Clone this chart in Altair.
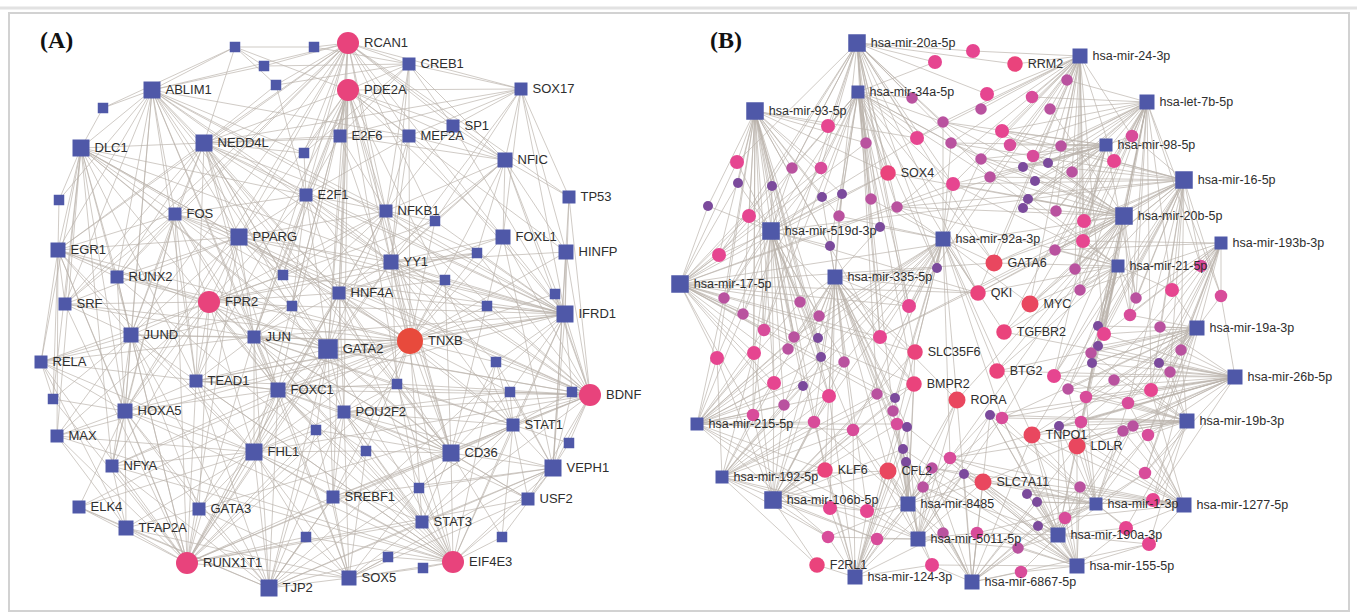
import altair as alt
import pandas as pd

W, H = 1357, 613

# ---------------- Panel A: TF - gene network ----------------
a_label = ["ABLIM1", "DLC1", "NEDD4L", "E2F1", "FOS", "PPARG", "EGR1", "RUNX2", "SRF", "FPR2",
           "RCAN1", "PDE2A", "CREB1", "SOX17", "E2F6", "MEF2A", "SP1", "NFIC", "TP53", "NFKB1",
           "FOXL1", "HINFP", "YY1", "HNF4A", "IFRD1", "JUN", "GATA2", "TNXB", "JUND", "RELA",
           "TEAD1", "FOXC1", "BDNF", "HOXA5", "POU2F2", "MAX", "STAT1", "FHL1", "CD36", "NFYA",
           "VEPH1", "SREBF1", "USF2", "ELK4", "GATA3", "STAT3", "TFAP2A", "RUNX1T1", "EIF4E3", "SOX5",
           "TJP2"]
a_x = [152, 81, 204, 306, 175, 239, 58, 117, 65, 209,
       348, 348, 409, 521, 340, 409, 453, 505, 569, 386,
       503, 566, 391, 339, 565, 254, 328, 410, 131, 41,
       196, 278, 590, 125, 344, 57, 513, 254, 451, 112,
       553, 333, 528, 79, 199, 422, 126, 187, 453, 349,
       269]
a_y = [90, 148, 143, 195, 214, 237, 250, 277, 304, 302,
       43, 90, 64, 89, 136, 136, 126, 160, 197, 211,
       237, 252, 262, 293, 314, 337, 349, 341, 335, 362,
       381, 390, 395, 411, 412, 436, 425, 452, 453, 466,
       468, 497, 499, 507, 509, 522, 528, 563, 562, 578,
       588]
a_cls = ["X", "X", "X", "M", "M", "X", "L", "M", "M", "C",
         "C", "C", "M", "M", "M", "M", "M", "L", "M", "M",
         "L", "L", "L", "M", "X", "M", "XX", "T", "L", "M",
         "M", "L", "C", "L", "M", "M", "M", "X", "X", "M",
         "X", "M", "M", "M", "M", "M", "L", "C", "C", "L",
         "X"]

# unlabeled small TF nodes s1..s27
a_sx = [235, 314, 264, 276, 103, 304, 59, 283, 292, 435, 477, 445, 555, 487,
        496, 397, 510, 572, 569, 53, 316, 366, 419, 306, 502, 388, 423]
a_sy = [47, 47, 66, 85, 108, 153, 200, 275, 306, 221, 253, 280, 294, 306,
        362, 384, 392, 392, 443, 399, 430, 451, 488, 537, 537, 557, 568]

a_links = {
    "RCAN1": "s2 s3 s4 CREB1 SOX17 E2F6 MEF2A SP1 NFIC E2F1 NEDD4L ABLIM1 s6 NFKB1 HNF4A YY1 GATA2 FOS PPARG s10 FOXL1 TP53 SRF EGR1 RUNX2 JUND HOXA5 JUN",
    "PDE2A": "CREB1 SOX17 E2F6 MEF2A SP1 NFIC E2F1 s6 NFKB1 YY1 HNF4A GATA2 JUN FOXC1 POU2F2 PPARG s8 s9 FOXL1 HINFP s1 NEDD4L TEAD1 FHL1 CD36 STAT1 STAT3 SREBF1",
    "ABLIM1": "s1 s3 s5 DLC1 NEDD4L FOS PPARG EGR1 RUNX2 SRF JUND E2F1 s6 JUN TEAD1 HOXA5 s7 GATA2 RCAN1 CD36 FOXC1 NFKB1 MEF2A IFRD1 YY1 HNF4A",
    "DLC1": "s5 s7 EGR1 RUNX2 SRF RELA JUND FOS E2F1 HOXA5 MAX NFYA TEAD1 PPARG NEDD4L GATA2 FOXC1 s20 TNXB YY1 HNF4A CD36",
    "NEDD4L": "s1 s4 s6 E2F1 FOS PPARG RUNX2 JUND JUN TEAD1 HNF4A MEF2A E2F6 NFKB1 YY1 s8 FOXC1 SRF EGR1 GATA2 CD36 POU2F2 IFRD1 SOX17",
    "FPR2": "FOS PPARG EGR1 RUNX2 SRF JUND JUN RELA TEAD1 HOXA5 FOXC1 GATA2 s8 s9 HNF4A E2F1 NFKB1 YY1 MAX NFYA GATA3 FHL1 POU2F2 s21 s10 s11",
    "TNXB": "E2F1 NFKB1 YY1 HNF4A GATA2 JUN FOXC1 POU2F2 s10 s11 s12 s13 s14 s15 s16 s17 FOXL1 HINFP IFRD1 STAT1 CD36 s22 FHL1 PPARG SREBF1 STAT3 TEAD1 E2F6 MEF2A NFIC RUNX2 JUND EGR1 SRF HOXA5 NFYA MAX ELK4",
    "BDNF": "IFRD1 HINFP FOXL1 TP53 NFIC s13 s14 s15 s17 s18 STAT1 s19 VEPH1 USF2 CD36 YY1 GATA2 HNF4A POU2F2 s16 FOXC1 SREBF1 NFKB1 E2F1 s11 STAT3 FOS PPARG JUN TEAD1 FHL1 GATA3",
    "RUNX1T1": "TFAP2A GATA3 ELK4 NFYA HOXA5 MAX TEAD1 FHL1 FOXC1 JUND RUNX2 SRF RELA JUN GATA2 s24 SREBF1 POU2F2 s21 s20 STAT3 SOX5 EGR1 FOS PPARG HNF4A YY1 NFKB1 s16 CD36 STAT1 USF2",
    "EIF4E3": "SOX5 s26 s27 STAT3 SREBF1 s23 s25 USF2 VEPH1 STAT1 CD36 POU2F2 s22 FOXC1 GATA2 FHL1 HNF4A YY1 s16 s15 IFRD1 JUN TEAD1 s24 HOXA5 JUND NFYA MAX RUNX2",
    "PPARG": "RUNX2 SRF EGR1 JUND JUN HNF4A E2F1 FOS s8 s9 TEAD1 HOXA5 YY1 NFKB1",
    "FHL1": "TEAD1 HOXA5 JUN JUND NFYA MAX GATA3 TFAP2A FOXC1 GATA2 POU2F2 s21 s22 SREBF1 STAT3 s24 HNF4A RELA ELK4",
    "CD36": "POU2F2 s22 s21 STAT1 STAT3 SREBF1 s23 s25 USF2 VEPH1 FOXC1 GATA2 HNF4A YY1 s16 s15 s17 JUN NFKB1 FOXL1 s12",
    "TJP2": "GATA3 TFAP2A FHL1 FOXC1 TEAD1 JUN GATA2 s24 SREBF1 SOX5 s26 STAT3 POU2F2 s21 HOXA5 NFYA ELK4 JUND s22 STAT1 IFRD1 VEPH1",
    "IFRD1": "HINFP FOXL1 TP53 NFIC SOX17 SP1 s10 s11 s12 s13 s14 YY1 NFKB1 HNF4A GATA2 s15 s17 s18 STAT1 VEPH1 E2F1 MEF2A FOS PPARG JUN FOXC1 TEAD1 s9 s8",
    "VEPH1": "STAT1 s17 s18 s19 USF2 CD36 s25 STAT3 s23 HINFP FOXL1 TP53 s15 POU2F2 SREBF1",
    "SOX5": "s24 s26 s27 STAT3 SREBF1 s23 FHL1 GATA3 TFAP2A POU2F2 s21 s22 FOXC1 JUN VEPH1 USF2",
    "SOX17": "CREB1 SP1 NFIC TP53 MEF2A HINFP FOXL1 E2F6 s10 YY1",
    "NFIC": "TP53 FOXL1 HINFP SP1 MEF2A NFKB1 s10 s11 YY1 CREB1 E2F6 HNF4A",
    "E2F1": "s4 s6 FOS PPARG NFKB1 YY1 HNF4A s8 s9 JUN GATA2 MEF2A E2F6",
    "TFAP2A": "ELK4 NFYA MAX HOXA5 RELA GATA3",
    "EGR1": "s7 SRF RELA s20 MAX RUNX2 JUND HOXA5 GATA2 FHL1",
    "GATA2": "JUN FOXC1 POU2F2 HNF4A TEAD1 s9 s21 SREBF1 YY1 NFKB1",
    "JUN": "FOS JUND SRF RELA TEAD1 FOXC1 HNF4A STAT3 STAT1 NFKB1 s9 s16 USF2",
    "FOS": "JUND SRF EGR1 RUNX2 FOXC1 TEAD1 s8 s9 HOXA5 NFYA",
    "HNF4A": "YY1 NFKB1 FOXC1 POU2F2 s12 s11 s16 STAT1 FOXL1",
    "YY1": "s10 s11 s12 s14 FOXL1 HINFP s15 s16 STAT1 MEF2A CREB1",
    "FOXC1": "TEAD1 POU2F2 s21 s22 HOXA5 NFYA GATA3 s16 STAT3",
    "POU2F2": "s16 s22 STAT1 STAT3 SREBF1 USF2 s23 s17",
    "HOXA5": "RELA MAX NFYA ELK4 GATA3 s20 TEAD1 JUND RUNX2",
    "JUND": "RELA SRF RUNX2 s20 MAX NFYA GATA3",
    "RELA": "FOXC1 s9 s20",
    "NFKB1": "s10 s11 MEF2A SP1 CREB1 E2F6 s8",
    "STAT1": "s15 s17 s18 s19 USF2 STAT3 s23 s25 s16",
    "CREB1": "s2 s3 s4 E2F6 MEF2A SP1 s6",
    "s1": "s2 s3 s4 s5",
}

# ---------------- Panel B: miRNA - mRNA network ----------------
b_mir = ["hsa-mir-20a-5p", "hsa-mir-34a-5p", "hsa-mir-93-5p", "hsa-mir-24-3p", "hsa-let-7b-5p",
         "hsa-mir-98-5p", "hsa-mir-16-5p", "hsa-mir-20b-5p", "hsa-mir-193b-3p", "hsa-mir-21-5p",
         "hsa-mir-519d-3p", "hsa-mir-92a-3p", "hsa-mir-335-5p", "hsa-mir-17-5p", "hsa-mir-19a-3p",
         "hsa-mir-26b-5p", "hsa-mir-19b-3p", "hsa-mir-215-5p", "hsa-mir-192-5p", "hsa-mir-106b-5p",
         "hsa-mir-8485", "hsa-mir-1-3p", "hsa-mir-1277-5p", "hsa-mir-190a-3p", "hsa-mir-5011-5p",
         "hsa-mir-155-5p", "hsa-mir-124-3p", "hsa-mir-6867-5p"]
b_mir_x = [857, 858, 755, 1080, 1147, 1106, 1184, 1124, 1221, 1118,
           771, 943, 835, 680, 1197, 1235, 1187, 697, 722, 773,
           908, 1096, 1184, 1058, 918, 1077, 855, 972]
b_mir_y = [43, 92, 111, 56, 102, 145, 180, 216, 243, 266,
           231, 239, 277, 284, 328, 377, 421, 424, 477, 500,
           504, 504, 505, 535, 539, 566, 577, 582]
b_mir_cls = ["b17", "b13", "b17", "b15", "b15", "b13", "b17", "b17", "b13", "b13",
             "b17", "b15", "b15", "b17", "b15", "b15", "b15", "b13", "b13", "b17",
             "b15", "b13", "b15", "b15", "b15", "b15", "b15", "b15"]

b_gene = ["RRM2", "SOX4", "GATA6", "QKI", "MYC", "TGFBR2", "SLC35F6", "BTG2",
          "BMPR2", "RORA", "TNPO1", "LDLR", "KLF6", "CFL2", "SLC7A11", "F2RL1"]
b_gene_x = [1015, 888, 994, 978, 1030, 1004, 915, 997, 914, 957, 1032, 1077, 825, 888, 983, 817]
b_gene_y = [64, 173, 263, 293, 304, 332, 352, 371, 384, 400, 435, 446, 470, 471, 482, 565]
b_gene_cls = ["g", "g", "r", "g", "r", "g", "g", "g", "g", "r", "r", "r", "g", "r", "r", "g"]

# unlabeled mRNA nodes 1..127
b_cx = [973, 935, 1067, 987, 912, 1032, 981, 1050, 828, 943,
        1002, 917, 866, 951, 1010, 1061, 1132, 737, 792, 821,
        981, 1033, 1114, 1023, 1048, 1072, 990, 953, 738, 772,
        1035, 822, 842, 871, 708, 897, 1028, 1023, 1056, 749,
        839, 1084, 880, 830, 1083, 1055, 719, 937, 1075, 1201,
        1080, 1172, 1221, 1136, 724, 800, 909, 743, 819, 1130,
        1098, 1104, 1160, 764, 794, 818, 880, 1098, 1091, 1092,
        1181, 1159, 1170, 717, 754, 788, 821, 844, 1054, 1114,
        774, 803, 829, 877, 895, 1068, 1086, 1151, 784, 893,
        1128, 990, 1002, 753, 814, 853, 897, 907, 1081, 1059,
        1123, 1133, 1148, 903, 950, 906, 932, 964, 1145, 923,
        1080, 1027, 1037, 1153, 830, 867, 1065, 1038, 1126, 828,
        877, 943, 977, 1149, 1018, 932, 1021]
b_cy = [51, 62, 80, 94, 98, 97, 109, 109, 126, 122,
        131, 138, 143, 143, 145, 146, 136, 162, 168, 168,
        159, 156, 161, 167, 163, 172, 177, 184, 183, 186,
        181, 197, 194, 199, 206, 207, 199, 208, 211, 216,
        216, 221, 227, 246, 241, 250, 255, 268, 269, 266,
        290, 290, 296, 298, 298, 302, 306, 314, 316, 315,
        326, 334, 327, 330, 337, 338, 337, 346, 353, 363,
        350, 363, 372, 358, 353, 349, 357, 362, 376, 380,
        383, 386, 396, 394, 398, 389, 397, 390, 405, 411,
        403, 415, 418, 415, 422, 430, 424, 427, 422, 426,
        431, 426, 435, 449, 458, 462, 468, 474, 473, 487,
        487, 494, 502, 500, 508, 511, 518, 526, 528, 537,
        539, 533, 533, 544, 548, 565, 572]
b_ccls = ["p", "p", "m", "p", "m", "q", "m", "m", "p", "m",
          "p", "p", "m", "m", "q", "m", "q", "p", "m", "q",
          "m", "q", "p", "v", "v", "m", "m", "p", "v", "v",
          "v", "v", "v", "m", "v", "m", "v", "v", "m", "p",
          "m", "p", "v", "v", "p", "m", "p", "v", "m", "q",
          "m", "p", "q", "m", "m", "m", "p", "m", "m", "q",
          "v", "p", "m", "q", "m", "v", "p", "v", "m", "v",
          "m", "v", "m", "p", "p", "m", "v", "m", "p", "m",
          "p", "v", "p", "m", "v", "m", "q", "p", "m", "m",
          "q", "v", "q", "q", "q", "q", "q", "v", "q", "v",
          "m", "m", "q", "v", "q", "v", "m", "v", "q", "m",
          "m", "v", "v", "p", "p", "p", "q", "v", "p", "q",
          "q", "m", "q", "p", "m", "p", "q"]

# miRNA -> target lists (numbers refer to the unlabeled mRNA nodes)
b_links = {
    "hsa-mir-20a-5p": "1 2 9 12 13 18 19 20 4 5 10 RRM2 SOX4 34 36 41 47 40 55 57 QKI 28 64 SLC35F6 84 21 27 48 GATA6 67 43",
    "hsa-mir-34a-5p": "2 5 9 12 13 14 19 20 SOX4 32 33 34 41 43 44 48 57 67 GATA6 QKI BMPR2 90 10 21 27 28 36 47 55 58 64",
    "hsa-mir-93-5p": "9 18 19 20 29 30 35 40 47 55 56 58 64 SOX4 74 75 81 83 94 13 12 67 KLF6 32 33 41 44 59 65 66 76 77",
    "hsa-mir-24-3p": "1 3 4 6 7 8 11 15 16 17 22 23 26 RRM2 25 39 45 42 MYC 49 51 62 28 12 14 10 21 27 36 57 QKI GATA6",
    "hsa-let-7b-5p": "3 6 8 16 17 23 26 31 39 42 45 50 52 53 60 62 LDLR 87 99 88 22 24 25 37 38 46 49 51 54 61 MYC 11 15",
    "hsa-mir-98-5p": "11 15 16 17 22 23 24 25 26 31 37 38 39 42 45 46 49 54 TGFBR2 79 10 14 21 27 28 36",
    "hsa-mir-16-5p": "17 23 42 45 49 50 51 52 53 54 60 62 63 71 73 88 91 MYC 69 TNPO1 46 11 28 21 27 10 14 36 GATA6 QKI 67 79 86",
    "hsa-mir-20b-5p": "22 24 25 37 38 42 45 46 49 51 54 60 61 62 MYC GATA6 28 QKI 11 TGFBR2 BTG2 SOX4 79 87 105 8 10 14 21 27 36 67 RORA 93",
    "hsa-mir-193b-3p": "50 52 53 60 63 71 73 88 91 114 109 62 45 46 51 54 72 103 87",
    "hsa-mir-21-5p": "45 46 49 51 52 54 60 61 62 68 69 70 79 86 87 99 MYC LDLR 28 GATA6 QKI TGFBR2 BTG2 27 21 36",
    "hsa-mir-519d-3p": "18 19 20 29 30 32 33 35 40 44 47 55 56 58 59 64 65 66 74 75 76 SOX4 QKI 83 77 78 81 82 89 94 95 96 BMPR2",
    "hsa-mir-92a-3p": "10 14 21 27 28 34 36 41 43 48 57 GATA6 QKI MYC TGFBR2 67 SLC35F6 84 85 BTG2 RORA 105 93 59 65 66 76 77 78 89 90 95 96 97 TNPO1",
    "hsa-mir-335-5p": "32 33 41 43 44 48 56 57 59 65 66 67 76 77 78 SLC35F6 BMPR2 83 84 85 95 96 KLF6 CFL2 QKI 89 90 94 97 98 104 106 115 116 RORA",
    "hsa-mir-17-5p": "35 40 47 55 58 64 74 75 81 94 29 30 SOX4 56 89 GATA6 83 65 13 20 18 QKI 57 67 SLC35F6 BMPR2 84 85 28 36 10",
    "hsa-mir-19a-3p": "52 53 60 62 63 71 72 73 88 91 103 109 TNPO1 LDLR 61 68 70 87 BTG2 69 79 86 99 100 93",
    "hsa-mir-26b-5p": "53 63 71 72 73 88 91 103 109 114 62 101 102 87 BTG2 79 SLC7A11 TGFBR2 69 70 68 86 99 100 LDLR TNPO1 93 92 105",
    "hsa-mir-19b-3p": "71 72 73 88 91 101 102 103 109 114 99 100 119 LDLR TNPO1 87 124 69 70 86 79 93 92 105",
    "hsa-mir-215-5p": "74 75 81 94 89 58 64 82 95 115 120 KLF6 83 55 56 59 65 66 76 77 78 96 97 116",
    "hsa-mir-192-5p": "74 81 94 89 95 115 120 116 KLF6 F2RL1 83 96 75 77 78 82 84 121 CFL2 BMPR2",
    "hsa-mir-106b-5p": "81 82 89 94 95 96 115 116 120 121 KLF6 CFL2 F2RL1 83 97 104 BMPR2 75 74 77 78 84 85 90 SLC35F6",
    "hsa-mir-8485": "96 97 98 104 105 106 107 108 110 116 121 122 CFL2 SLC7A11 RORA BMPR2 90 85 84 93 92 95 120 126 SLC35F6",
    "hsa-mir-1-3p": "99 100 101 102 103 109 111 112 113 114 117 118 119 124 LDLR TNPO1 SLC7A11 125 86 87 91 92 93 105 107 123",
    "hsa-mir-1277-5p": "101 102 103 109 114 119 124 88 91 117 111 LDLR 99 100 112 113 TNPO1 SLC7A11 105 107",
    "hsa-mir-190a-3p": "111 112 113 117 118 119 124 125 127 123 SLC7A11 TNPO1 LDLR 108 92 93 100 99 101 102 103 109 105 110",
    "hsa-mir-5011-5p": "104 106 107 108 110 121 122 123 126 116 120 CFL2 SLC7A11 RORA 125 KLF6 93 92 98 105 115 96",
    "hsa-mir-155-5p": "111 112 113 117 118 119 124 125 127 123 126 LDLR TNPO1 SLC7A11 110 92 93 98 100 104 105 106 108",
    "hsa-mir-124-3p": "115 116 120 121 126 F2RL1 KLF6 CFL2 104 107 110 122 96 97 83 95 98 106 108 RORA BMPR2",
    "hsa-mir-6867-5p": "108 110 122 123 125 126 127 118 SLC7A11 CFL2 RORA 107 113 92 104 106 124 117 111 TNPO1 LDLR",
    "hsa-mir-17-5p ": "hsa-mir-20b-5p",
    "hsa-mir-519d-3p ": "hsa-mir-16-5p",
}

# ---------------- node classes: symbol side (px), shape, colour ----------------
cls_side = {"S": 10.5, "M": 13, "L": 15, "X": 17, "XX": 19.5, "C": 22, "T": 26,
            "b13": 13, "b15": 15, "b17": 17.5,
            "v": 10, "m": 11.5, "q": 12.5, "p": 14, "g": 15.5, "r": 17}
round_cls = ("C", "T", "v", "m", "q", "p", "g", "r")
SQ = "#4f58a8"
cls_color = {"S": SQ, "M": SQ, "L": SQ, "X": SQ, "XX": SQ, "b13": SQ, "b15": SQ, "b17": SQ,
             "C": "#e8437c", "T": "#e84a3c",
             "v": "#7b4a9c", "m": "#b9529f", "q": "#d84c9a", "p": "#e64590",
             "g": "#ea437c", "r": "#e9475f"}

rows = []
for n, x, y, c in zip(a_label, a_x, a_y, a_cls):
    rows.append(dict(panel="A", id=n, label=n, x=x, y=y, cls=c))
for i, (x, y) in enumerate(zip(a_sx, a_sy), start=1):
    rows.append(dict(panel="A", id=f"s{i}", label="", x=x, y=y, cls="S"))
for n, x, y, c in zip(b_mir, b_mir_x, b_mir_y, b_mir_cls):
    rows.append(dict(panel="B", id=n, label=n, x=x, y=y, cls=c))
for n, x, y, c in zip(b_gene, b_gene_x, b_gene_y, b_gene_cls):
    rows.append(dict(panel="B", id=n, label=n, x=x, y=y, cls=c))
for i, (x, y, c) in enumerate(zip(b_cx, b_cy, b_ccls), start=1):
    rows.append(dict(panel="B", id=f"c{i}", label="", x=x, y=y, cls=c))
nodes = pd.DataFrame(rows)
nodes["area"] = nodes["cls"].map(cls_side) ** 2
nodes["shape"] = nodes["cls"].map(lambda c: "circle" if c in round_cls else "square")
nodes["fill"] = nodes["cls"].map(cls_color)
nodes["lx"] = nodes["x"] + nodes["cls"].map(cls_side) / 2 + 5
pos = {(r.panel, r.id): (r.x, r.y) for r in nodes.itertuples()}


def edge_rows(panel, links, prefix):
    seen, out = set(), []
    for hub, targets in links.items():
        hub = hub.strip()
        for t in targets.split():
            t = prefix + t if t.isdigit() else t
            key = tuple(sorted((hub, t)))
            if key in seen or hub == t:
                continue
            seen.add(key)
            (x1, y1), (x2, y2) = pos[(panel, hub)], pos[(panel, t)]
            out.append(dict(x=x1, y=y1, x2=x2, y2=y2))
    return out


edges = pd.DataFrame(edge_rows("A", a_links, "s") + edge_rows("B", b_links, "c"))

xs = alt.Scale(domain=[0, W], range=[0, W])
ys = alt.Scale(domain=[0, H], range=[0, H])

frame_band = alt.Chart(pd.DataFrame({"a": [0]})).mark_rule(
    color="#e2e2e2", strokeWidth=3
).encode(x=alt.value(0), x2=alt.value(W), y=alt.value(8))

frame = alt.Chart(pd.DataFrame({"a": [0]})).mark_rect(
    fill=None, stroke="#d2d2d2", strokeWidth=2
).encode(x=alt.value(9), x2=alt.value(1349), y=alt.value(13), y2=alt.value(611))

links = alt.Chart(edges).mark_rule(
    color="#bab2ab", strokeWidth=0.8, opacity=0.85
).encode(
    x=alt.X("x:Q", scale=xs, axis=None),
    y=alt.Y("y:Q", scale=ys, axis=None),
    x2="x2:Q",
    y2="y2:Q",
)

node_layer = alt.Chart(nodes).mark_point(filled=True, opacity=1).encode(
    x=alt.X("x:Q", scale=xs, axis=None),
    y=alt.Y("y:Q", scale=ys, axis=None),
    shape=alt.Shape("shape:N", scale=None),
    size=alt.Size("area:Q", scale=None),
    color=alt.Color("fill:N", scale=None),
)

label_a = alt.Chart(nodes[(nodes.panel == "A") & (nodes.label != "")]).mark_text(
    align="left", baseline="middle", font="Liberation Sans", fontSize=13, color="#2e2e2e"
).encode(x=alt.X("lx:Q", scale=xs, axis=None), y=alt.Y("y:Q", scale=ys, axis=None), text="label:N")

label_b = alt.Chart(nodes[(nodes.panel == "B") & (nodes.label != "")]).mark_text(
    align="left", baseline="middle", font="Liberation Sans", fontSize=12.5, color="#2e2e2e"
).encode(x=alt.X("lx:Q", scale=xs, axis=None), y=alt.Y("y:Q", scale=ys, axis=None), text="label:N")

panel_tags = alt.Chart(pd.DataFrame({"t": ["(A)", "(B)"], "x": [40, 710], "y": [41, 41]})).mark_text(
    align="left", baseline="middle", font="Liberation Serif", fontSize=24, fontWeight="bold", color="#111111"
).encode(x=alt.X("x:Q", scale=xs, axis=None), y=alt.Y("y:Q", scale=ys, axis=None), text="t:N")

chart = alt.layer(frame_band, frame, links, node_layer, label_a, label_b, panel_tags).properties(
    width=W, height=H, padding=0, autosize=alt.AutoSizeParams(type="none"), background="white"
).configure_view(stroke=None)

chart.save("out.html", embed_options={"renderer": "svg", "actions": False})
